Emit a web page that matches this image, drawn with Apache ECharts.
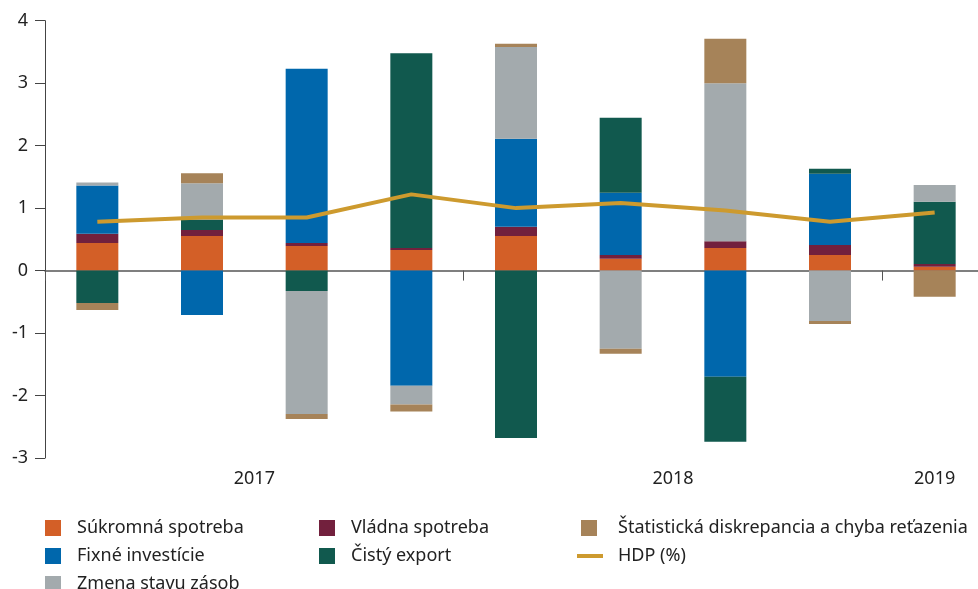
<!DOCTYPE html>
<html>
<head>
<meta charset="utf-8">
<script src="https://cdn.jsdelivr.net/npm/echarts@6/dist/echarts.min.js"></script>
<style>
  html, body { margin: 0; padding: 0; background: #fff; overflow: hidden; }
  #main { width: 990px; height: 589px; }
</style>
</head>
<body>
<div id="main"></div>
<script>
// štvrťroky 2017 Q1 - 2019 Q1
var quarters = ['2017Q1', '2017Q2', '2017Q3', '2017Q4', '2018Q1', '2018Q2', '2018Q3', '2018Q4', '2019Q1'];
var yearLabels = { 2: '2017', 6: '2018', 8.5: '2019' };

var sukromna   = [0.44, 0.555, 0.395, 0.33, 0.555, 0.19, 0.36, 0.25, 0.06];
var vladna     = [0.15, 0.095, 0.045, 0.03, 0.145, 0.06, 0.11, 0.16, 0.045];
var fixne      = [0.77, -0.71, 2.79, -1.845, 1.41, 0.995, -1.70, 1.14, 0];
var cistyExport = [-0.52, 0.16, -0.325, 3.12, -2.68, 1.2, -1.04, 0.08, 0.995];
var zasoby     = [0.05, 0.59, -1.97, -0.30, 1.47, -1.25, 2.53, -0.805, 0.27];
var diskrepancia = [-0.11, 0.16, -0.08, -0.11, 0.05, -0.08, 0.71, -0.05, -0.42];
var hdp        = [0.78, 0.85, 0.85, 1.22, 1.0, 1.08, 0.96, 0.78, 0.93];

var font = 'Noto Sans';
var txt = '#222';

function bar(name, data, color) {
	return {
		name: name,
		type: 'bar',
		stack: 'spolu',
		barWidth: 42,
		data: data,
		itemStyle: { color: color },
		emphasis: { disabled: true }
	};
}

// jedna legenda = jedna položka, aby sa nič nezalamovalo
function leg(name, left, top, pad, w, h) {
	return {
		orient: 'horizontal', left: left, top: top, padding: 0,
		itemWidth: w || 16, itemHeight: h || 16,
		icon: 'rect',
		textStyle: { color: txt, fontSize: 18, lineHeight: 20, fontFamily: font, padding: [0, 0, 0, pad] },
		data: [name]
	};
}

var myChart = echarts.init(document.getElementById('main'));
var option = {
	animation: false,
	grid: { left: 45, right: 0, top: 20.7, bottom: 131, containLabel: false },
	legend: [
		leg('Súkromná spotreba', 45, 518, 11),
		leg('Fixné investície', 45, 546, 11),
		leg('Zmena stavu zásob', 45, 574, 11),
		leg('Vládna spotreba', 319, 518, 11),
		leg('Čistý export', 319, 546, 11),
		leg('Štatistická diskrepancia a chyba reťazenia', 581, 518, 16),
		leg('HDP (%)', 577, 546, 10, 26, 4)
	],
	xAxis: [
		{
			type: 'category',
			data: quarters,
			axisLine: { onZero: true, lineStyle: { color: '#555', width: 1.5 } },
			axisTick: {
				show: true, length: 10,
				interval: function (i) { return i === 0 || i === 4 || i === 8; },
				lineStyle: { color: '#555' }
			},
			axisLabel: { show: false }
		},
		{
			type: 'value',
			position: 'bottom',
			min: 0, max: 9, interval: 0.5,
			axisLine: { show: false, onZero: false },
			axisTick: { show: false },
			splitLine: { show: false },
			axisLabel: {
				margin: 12,
				color: txt, fontSize: 18, fontFamily: font,
				showMinLabel: true, showMaxLabel: true,
				formatter: function (v) { return yearLabels[v] || ''; }
			}
		}
	],
	yAxis: {
		type: 'value',
		min: -3, max: 4, interval: 1,
		axisLine: { show: true, lineStyle: { color: '#444' } },
		axisTick: { show: true, length: 10, lineStyle: { color: '#444' } },
		splitLine: { show: false },
		axisLabel: { margin: 17, color: txt, fontSize: 18, fontFamily: font }
	},
	series: [
		bar('Súkromná spotreba', sukromna, '#D35F27'),
		bar('Vládna spotreba', vladna, '#72203D'),
		bar('Fixné investície', fixne, '#0067AC'),
		bar('Čistý export', cistyExport, '#11594E'),
		bar('Zmena stavu zásob', zasoby, '#A3AAAD'),
		bar('Štatistická diskrepancia a chyba reťazenia', diskrepancia, '#A68359'),
		{
			name: 'HDP (%)',
			type: 'line',
			data: hdp,
			symbol: 'none',
			z: 5,
			itemStyle: { color: '#CD9A2E' },
			lineStyle: { color: '#CD9A2E', width: 4 },
			emphasis: { disabled: true }
		}
	]
};
myChart.setOption(option);
</script>
</body>
</html>
